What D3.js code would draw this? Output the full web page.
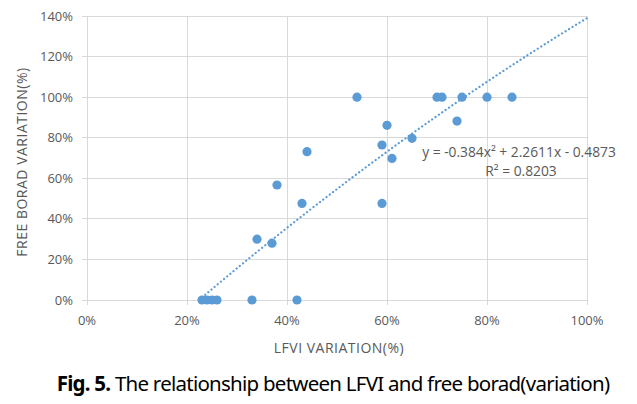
<!DOCTYPE html>
<html><head><meta charset="utf-8">
<script src="https://cdn.jsdelivr.net/npm/d3@7"></script>
<style>body{margin:0;background:#fff}svg{display:block}</style>
</head><body>
<script>
const xValues = [0.23,0.24,0.25,0.26,0.33,0.42,0.34,0.37,0.38,0.43,0.44,0.54,0.59,0.59,0.60,0.61,0.65,0.70,0.71,0.75,0.74,0.80,0.85];
const yValues = [0,0,0,0,0,0,0.30,0.28,0.567,0.476,0.731,1.00,0.476,0.764,0.861,0.698,0.797,1.00,1.00,1.00,0.882,1.00,1.00];
const trendCoefs = [-0.384, 2.2611, -0.4873];
const xTicks = [0,0.2,0.4,0.6,0.8,1.0];
const yTicks = [0,0.2,0.4,0.6,0.8,1.0,1.2,1.4];
const eqLabel = "y = -0.384x² + 2.2611x - 0.4873";
const r2Label = "R² = 0.8203";

const W=637,H=404;
const svg=d3.select("body").append("svg").attr("width",W).attr("height",H);
const x=d3.scaleLinear().domain([0,1]).range([87,587]);
const y=d3.scaleLinear().domain([0,1.4]).range([300,16]);
const font="'Open Sans', 'Noto Sans', sans-serif";
const grey="#595959";

// grid
svg.append("g").selectAll("line").data(yTicks).join("line")
  .attr("x1",82).attr("x2",587).attr("y1",d=>y(d)).attr("y2",d=>y(d))
  .attr("stroke","#d9d9d9").attr("stroke-width",1).attr("shape-rendering","crispEdges");
svg.append("g").selectAll("line").data(xTicks).join("line")
  .attr("x1",d=>x(d)).attr("x2",d=>x(d)).attr("y1",16).attr("y2",305)
  .attr("stroke","#d9d9d9").attr("stroke-width",1).attr("shape-rendering","crispEdges");

// tick labels
svg.append("g").selectAll("text").data(yTicks).join("text")
  .attr("x",73).attr("y",d=>y(d)).attr("dy","0.35em").attr("text-anchor","end")
  .attr("font-family",font).attr("font-size",13).attr("fill",grey)
  .text(d=>Math.round(d*100)+"%");
svg.append("g").selectAll("text").data(xTicks).join("text")
  .attr("x",d=>x(d)).attr("y",320).attr("dy","0.35em").attr("text-anchor","middle")
  .attr("font-family",font).attr("font-size",13).attr("fill",grey)
  .text(d=>Math.round(d*100)+"%");

// axis titles
svg.append("text").attr("x",339).attr("y",348).attr("dy","0.35em").attr("text-anchor","middle")
  .attr("font-family",font).attr("font-size",14).attr("letter-spacing",0.5).attr("fill",grey).text("LFVI VARIATION(%)");
svg.append("text").attr("transform","translate(22,162) rotate(-90)").attr("dy","0.35em").attr("text-anchor","middle")
  .attr("font-family",font).attr("font-size",14).attr("letter-spacing",0.5).attr("fill",grey).text("FREE BORAD VARIATION(%)");

// trendline
const xmin=d3.min(xValues);
const f=v=>trendCoefs[0]*v*v+trendCoefs[1]*v+trendCoefs[2];
const pts=d3.range(0,101).map(i=>xmin+(1-xmin)*i/100).map(v=>[v,f(v)]);
svg.append("path").attr("d",d3.line().x(d=>x(d[0])).y(d=>y(d[1]))(pts))
  .attr("fill","none").attr("stroke","#5b9bd5").attr("stroke-width",2.2)
  .attr("stroke-dasharray","0.1,4").attr("stroke-linecap","round");

// points
svg.append("g").selectAll("circle").data(xValues.map((v,i)=>[v,yValues[i]])).join("circle")
  .attr("cx",d=>x(d[0])).attr("cy",d=>y(d[1])).attr("r",4.6).attr("fill","#5b9bd5");

// equation labels
svg.append("text").attr("x",519).attr("y",152).attr("dy","0.35em").attr("text-anchor","middle")
  .attr("font-family",font).attr("font-size",13.8).attr("fill",grey).text(eqLabel);
svg.append("text").attr("x",521).attr("y",171).attr("dy","0.35em").attr("text-anchor","middle")
  .attr("font-family",font).attr("font-size",13.8).attr("fill",grey).text(r2Label);

// caption
const cap=svg.append("text").attr("x",333).attr("y",391).attr("text-anchor","middle")
  .attr("font-family","'Noto Sans', 'Open Sans', sans-serif").attr("font-size",20.5).attr("letter-spacing",-0.75).attr("fill","#000");
cap.append("tspan").attr("font-weight","bold").text("Fig. 5.");
cap.append("tspan").text(" The relationship between LFVI and free borad(variation)");
</script>
</body></html>
